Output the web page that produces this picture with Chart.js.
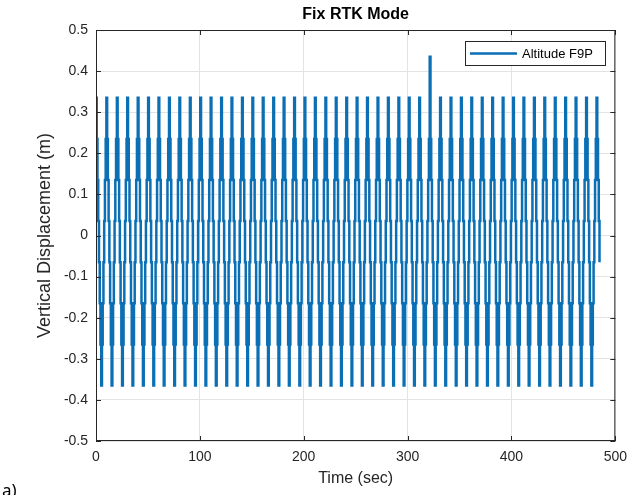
<!DOCTYPE html>
<html>
<head>
<meta charset="utf-8">
<script src="https://cdn.jsdelivr.net/npm/chart.js@4.4.0/dist/chart.umd.min.js"></script>
<style>
  html, body { margin: 0; padding: 0; background: #fff; }
  #wrap { width: 635px; height: 495px; position: relative; }
</style>
</head>
<body>
<div id="wrap"><canvas id="fixChart" width="635" height="495"></canvas></div>
<script>
// Peak times (sec) of each oscillation
const peakTimes = [
  0, 10.0, 20.1, 30.1, 40.2, 50.2, 60.2, 70.3, 80.3, 90.4,
  100.4, 110.4, 120.5, 130.5, 140.6, 150.6, 160.6, 170.7, 180.7, 190.8,
  200.8, 210.8, 220.9, 230.9, 241.0, 251.0, 261.0, 271.1, 281.1, 291.2,
  301.2, 311.2, 321.3, 331.3, 341.4, 351.4, 361.4, 371.5, 381.5, 391.6,
  401.6, 411.6, 421.7, 431.7, 441.8, 451.8, 461.8, 471.9, 481.9
];
// Peak value (m) of each oscillation (one spike near 321 s)
const peakValues = [
  0.335, 0.335, 0.335, 0.335, 0.335, 0.335, 0.335, 0.335, 0.335, 0.335,
  0.335, 0.335, 0.335, 0.335, 0.335, 0.335, 0.335, 0.335, 0.335, 0.335,
  0.335, 0.335, 0.335, 0.335, 0.335, 0.335, 0.335, 0.335, 0.335, 0.335,
  0.335, 0.335, 0.435, 0.335, 0.335, 0.335, 0.335, 0.335, 0.335, 0.335,
  0.335, 0.335, 0.335, 0.335, 0.335, 0.335, 0.335, 0.335, 0.335
];
// Samples after each peak: time offset (sec) and displacement level (m)
const cycleOffsets = [0, 0.72, 1.43, 2.15, 2.87, 3.59, 4.30, 5.02, 5.74, 6.45, 7.17, 7.89, 8.60, 9.32];
const cycleLevels = [null, 0.235, 0.135, 0.035, -0.065, -0.165, -0.265, -0.365, -0.265, -0.165, -0.065, 0.035, 0.135, 0.235];
const lastCycleSamples = 5; // record ends on the way down at -0.065

const xTicks = [0, 100, 200, 300, 400, 500];
const xTickLabels = ["0", "100", "200", "300", "400", "500"];
const yTicks = [-0.5, -0.4, -0.3, -0.2, -0.1, 0, 0.1, 0.2, 0.3, 0.4, 0.5];
const yTickLabels = ["-0.5", "-0.4", "-0.3", "-0.2", "-0.1", "0", "0.1", "0.2", "0.3", "0.4", "0.5"];

const FONT = '"Liberation Sans", Arial, Helvetica, sans-serif';
const AXIS_COLOR = "#262626";
const LINE_COLOR = "#0a6fb4";

// Put the samples of every cycle together
function buildSeries() {
  const pts = [];
  peakTimes.forEach((p, k) => {
    const n = k === peakTimes.length - 1 ? lastCycleSamples : cycleOffsets.length;
    for (let i = 0; i < n; i++) {
      pts.push({ x: p + cycleOffsets[i], y: i === 0 ? peakValues[k] : cycleLevels[i] });
    }
  });
  return pts;
}

// Box, inward ticks, legend and texts in MATLAB style
const matlabAxes = {
  id: "matlabAxes",
  afterDatasetsDraw(chart) {
    const { ctx, chartArea: a, scales } = chart;
    ctx.save();
    ctx.strokeStyle = AXIS_COLOR;
    ctx.lineWidth = 1;
    ctx.strokeRect(a.left + 0.5, a.top + 0.5, a.right - a.left - 1, a.bottom - a.top - 1);
    ctx.beginPath();
    xTicks.forEach(v => {
      const x = Math.round(scales.x.getPixelForValue(v)) + 0.5;
      ctx.moveTo(x, a.bottom); ctx.lineTo(x, a.bottom - 5);
      ctx.moveTo(x, a.top); ctx.lineTo(x, a.top + 5);
    });
    yTicks.forEach(v => {
      const y = Math.round(scales.y.getPixelForValue(v)) + 0.5;
      ctx.moveTo(a.left, y); ctx.lineTo(a.left + 5, y);
      ctx.moveTo(a.right, y); ctx.lineTo(a.right - 5, y);
    });
    ctx.stroke();

    // legend
    const lx = 465, ly = 41, lw = 140, lh = 24;
    ctx.fillStyle = "#fff";
    ctx.fillRect(lx, ly, lw, lh);
    ctx.strokeStyle = AXIS_COLOR;
    ctx.strokeRect(lx + 0.5, ly + 0.5, lw, lh);
    ctx.strokeStyle = LINE_COLOR;
    ctx.lineWidth = 2.5;
    ctx.beginPath();
    ctx.moveTo(lx + 5, ly + 12.5); ctx.lineTo(lx + 52, ly + 12.5);
    ctx.stroke();
    ctx.fillStyle = "#000";
    ctx.font = "13px " + FONT;
    ctx.textAlign = "left";
    ctx.textBaseline = "middle";
    ctx.fillText(chart.data.datasets[0].label, lx + 57, ly + 13);
    ctx.restore();
  },
  afterDraw(chart) {
    const { ctx, chartArea: a } = chart;
    const cx = (a.left + a.right) / 2;
    const cy = (a.top + a.bottom) / 2;
    ctx.save();
    ctx.fillStyle = "#000";
    ctx.textAlign = "center";
    ctx.textBaseline = "middle";
    ctx.font = "bold 16px " + FONT;
    ctx.fillText("Fix RTK Mode", cx, 15);
    ctx.fillStyle = AXIS_COLOR;
    ctx.font = "16px " + FONT;
    ctx.fillText("Time (sec)", cx, 479);
    ctx.translate(45, cy);
    ctx.rotate(-Math.PI / 2);
    ctx.font = "18px " + FONT;
    ctx.fillText("Vertical Displacement (m)", 0, 0);
    ctx.restore();

    ctx.save();
    ctx.fillStyle = "#000";
    ctx.font = '17px "Noto Sans", "Open Sans", sans-serif';
    ctx.textAlign = "left";
    ctx.textBaseline = "alphabetic";
    ctx.fillText("a)", 2, 496);
    ctx.restore();
  }
};

function createChart() {
  const ctx = document.getElementById("fixChart").getContext("2d");
  const chartConfig = {
    type: "line",
    data: {
      datasets: [
        {
          label: "Altitude F9P",
          data: buildSeries(),
          borderColor: LINE_COLOR,
          borderWidth: 2.5,
          pointRadius: 0,
          stepped: true,
          fill: false,
        },
      ],
    },
    options: {
      responsive: false,
      animation: false,
      devicePixelRatio: 1,
      layout: { padding: { left: 0, top: 30, right: 18, bottom: 0 } },
      plugins: {
        legend: { display: false },
        title: { display: false },
        tooltip: { enabled: false },
      },
      scales: {
        x: {
          type: "linear",
          min: 0,
          max: 500,
          afterBuildTicks: s => { s.ticks = xTicks.map(v => ({ value: v })); },
          afterFit: s => { s.height = 54; },
          ticks: {
            callback: (v, i) => xTickLabels[i],
            color: AXIS_COLOR,
            font: { family: FONT, size: 14 },
            padding: 8,
            maxRotation: 0,
          },
          grid: { color: "#e3e3e3", drawTicks: false },
          border: { display: false },
        },
        y: {
          min: -0.5,
          max: 0.5,
          afterBuildTicks: s => { s.ticks = yTicks.map(v => ({ value: v })); },
          afterFit: s => { s.width = 96; },
          ticks: {
            callback: (v, i) => yTickLabels[i],
            color: AXIS_COLOR,
            font: { family: FONT, size: 14 },
            padding: 8,
          },
          grid: { color: "#e3e3e3", drawTicks: false },
          border: { display: false },
        },
      },
    },
    plugins: [matlabAxes],
  };
  return new Chart(ctx, chartConfig);
}

createChart();
</script>
</body>
</html>
